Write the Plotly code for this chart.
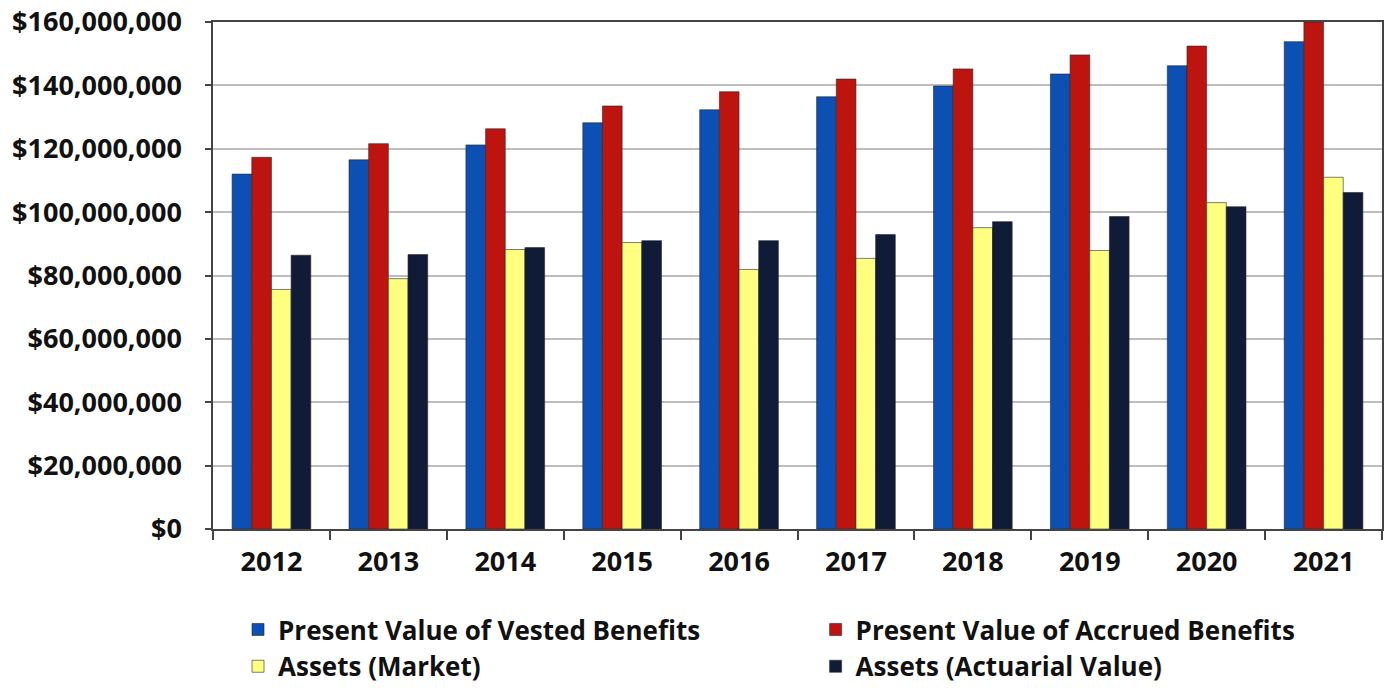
import plotly.graph_objects as go

# Plan valuation history, in dollars
years = ["2012", "2013", "2014", "2015", "2016", "2017", "2018", "2019", "2020", "2021"]
vested_benefits = [112.0e6, 116.5e6, 121.2e6, 128.2e6, 132.3e6, 136.4e6, 139.8e6, 143.6e6, 146.2e6, 153.8e6]
accrued_benefits = [117.3e6, 121.6e6, 126.3e6, 133.5e6, 138.0e6, 142.0e6, 145.2e6, 149.6e6, 152.4e6, 160.0e6]
assets_market = [75.6e6, 79.0e6, 88.2e6, 90.4e6, 81.9e6, 85.4e6, 95.1e6, 87.9e6, 103.0e6, 111.0e6]
assets_actuarial = [86.4e6, 86.6e6, 88.8e6, 91.0e6, 91.0e6, 92.9e6, 97.0e6, 98.6e6, 101.7e6, 106.2e6]

# (label, values, colour, legend column)
series = [
    ("Present Value of Vested Benefits", vested_benefits, "#0C50B4", "legend"),
    ("Present Value of Accrued Benefits", accrued_benefits, "#BE140F", "legend2"),
    ("Assets (Market)", assets_market, "#FFFF80", "legend"),
    ("Assets (Actuarial Value)", assets_actuarial, "#0F1B37", "legend2"),
]

FONT = "Open Sans"
TEXT = "#111111"

fig = go.Figure()
for name, values, color, legend_id in series:
    fig.add_trace(go.Bar(
        x=years,
        y=values,
        name=name,
        legend=legend_id,
        marker=dict(color=color, line=dict(color="rgba(40,40,40,0.8)", width=0.75)),
    ))

legend_style = dict(
    orientation="v",
    xanchor="left",
    y=-0.152,
    yanchor="top",
    traceorder="normal",
    tracegroupgap=0,
    font=dict(family=FONT, size=26, color=TEXT, weight="bold"),
    bgcolor="rgba(0,0,0,0)",
)

fig.update_layout(
    width=1391,
    height=690,
    margin=dict(l=213, r=9, t=22, b=161, autoexpand=False),
    paper_bgcolor="white",
    plot_bgcolor="white",
    barmode="group",
    bargap=0.327,
    bargroupgap=0,
    font=dict(family=FONT, size=27, color=TEXT, weight="bold"),
    showlegend=True,
    legend=dict(x=0.0214, **legend_style),
    legend2=dict(x=0.5155, **legend_style),
)

fig.update_xaxes(
    type="category",
    automargin=False,
    showline=True,
    linecolor="#444444",
    linewidth=1.5,
    mirror=True,
    ticks="outside",
    tickson="boundaries",
    ticklen=9,
    tickcolor="#444444",
    tickwidth=1.5,
    ticklabelstandoff=8,
    showgrid=False,
    tickfont=dict(family=FONT, size=27, color=TEXT, weight="bold"),
)

fig.update_yaxes(
    range=[0, 160e6],
    dtick=20e6,
    tickprefix="$",
    tickformat=",d",
    automargin=False,
    showline=True,
    linecolor="#444444",
    linewidth=1.5,
    mirror=True,
    ticks="outside",
    ticklen=6,
    tickcolor="#444444",
    tickwidth=1.5,
    ticklabelstandoff=18,
    showgrid=True,
    gridcolor="#BDBDBD",
    gridwidth=1.5,
    zeroline=False,
    tickfont=dict(family=FONT, size=27, color=TEXT, weight="bold"),
)

fig.write_html("out.html")
